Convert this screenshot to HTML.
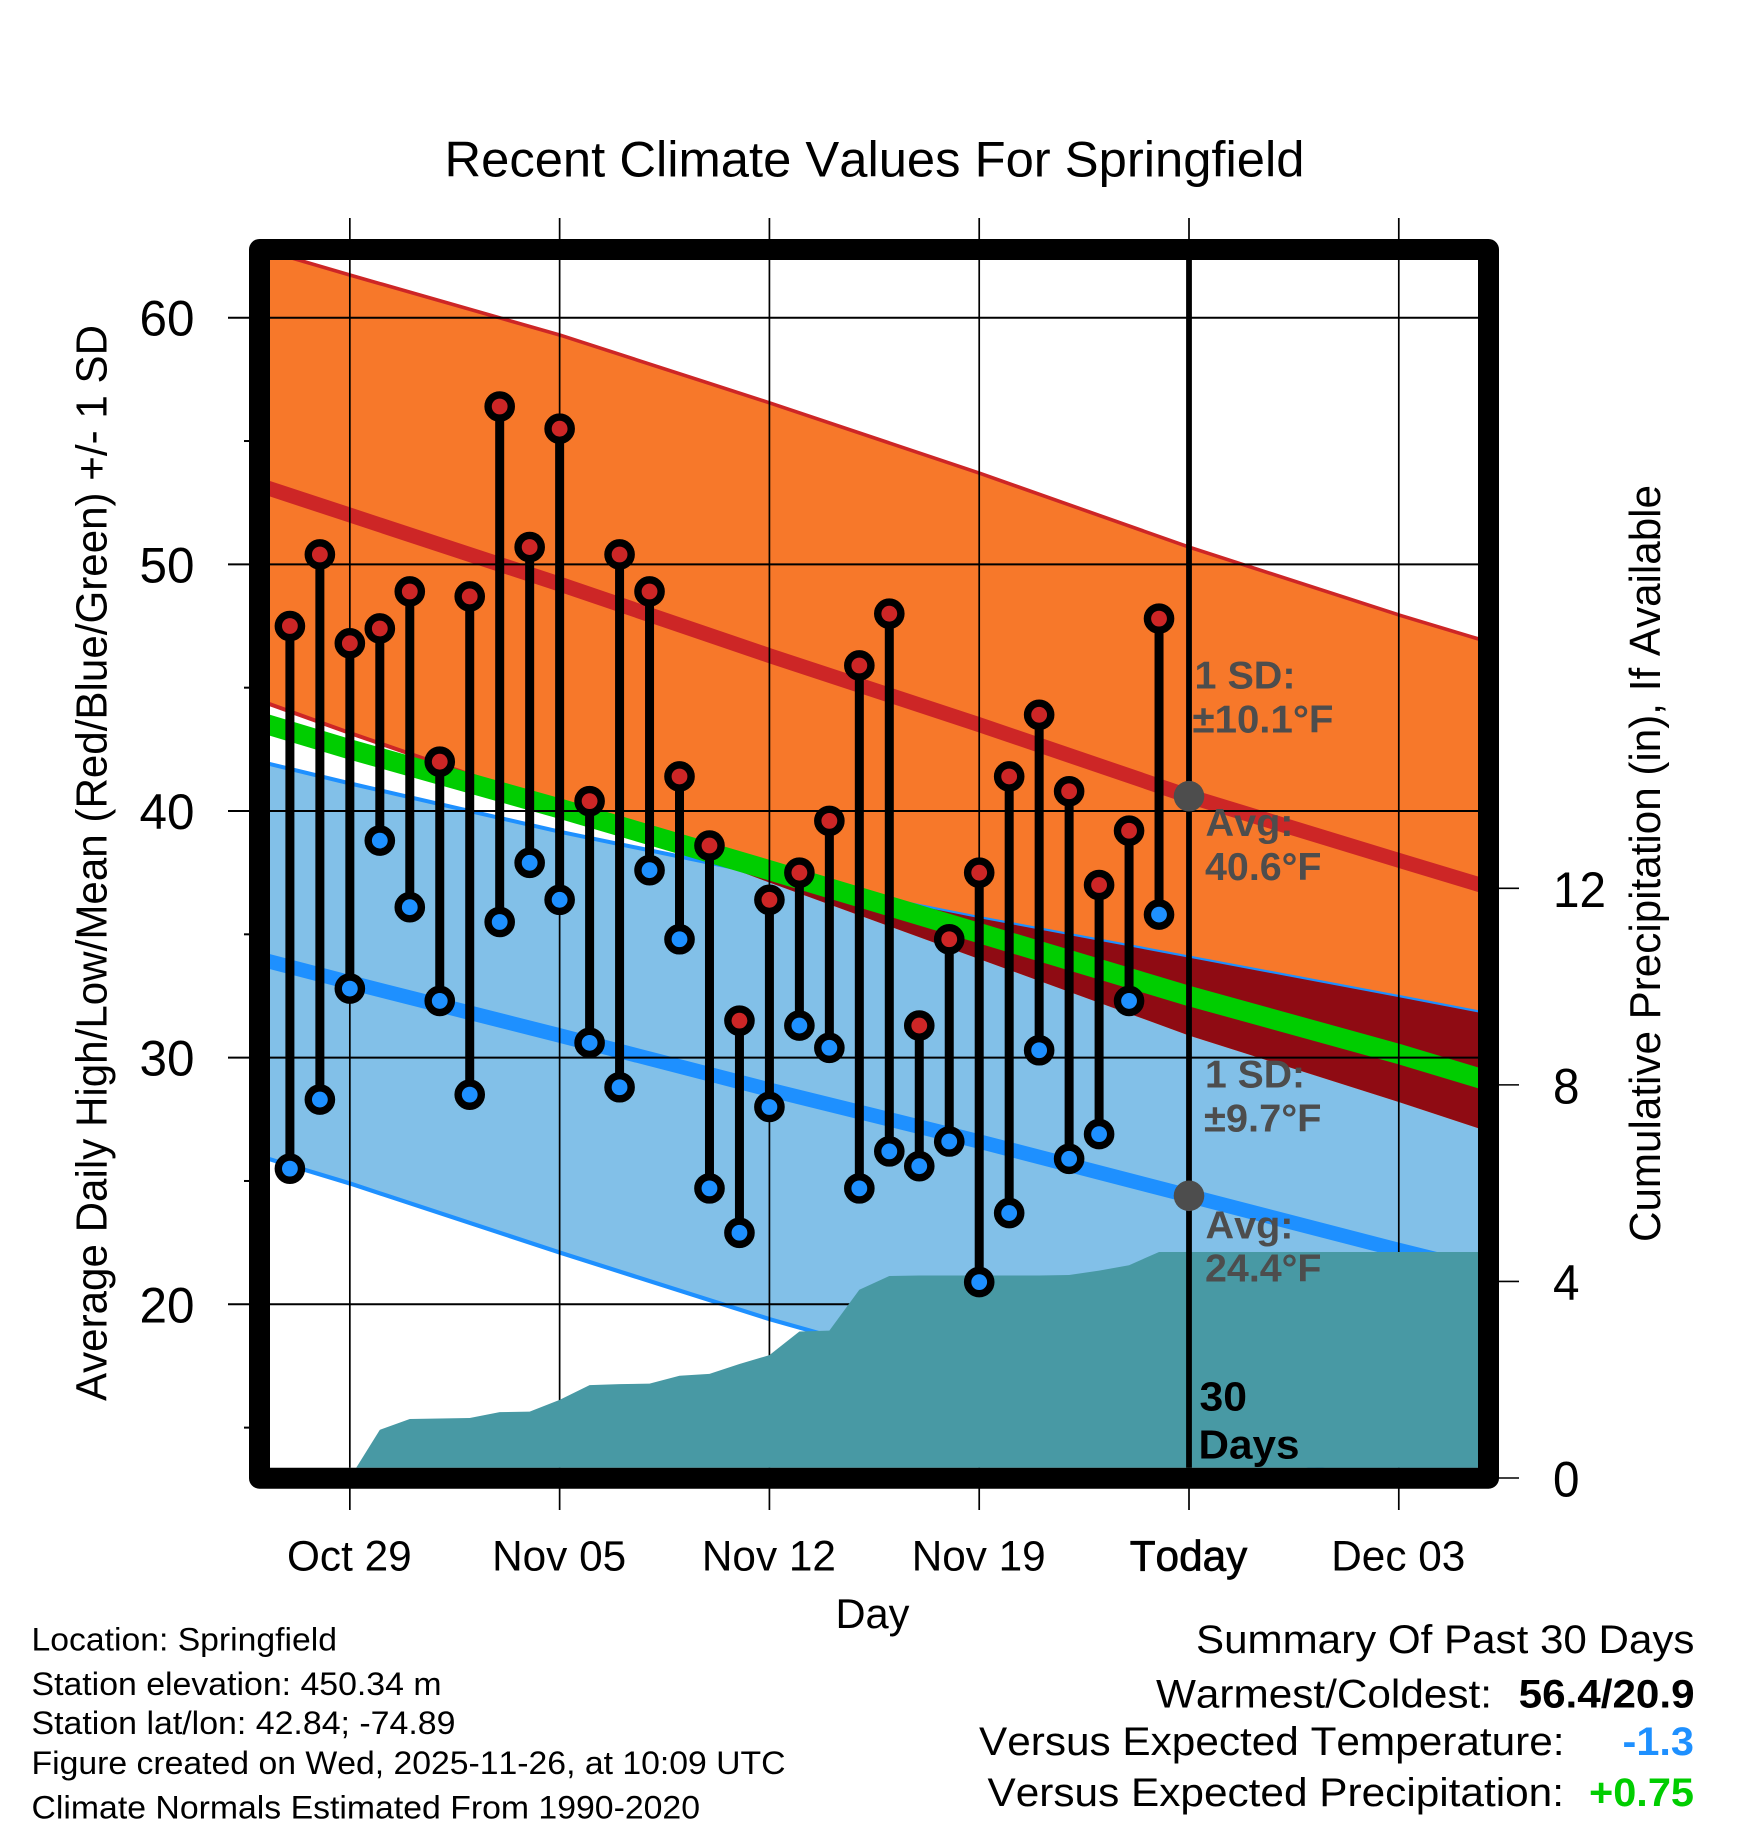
<!DOCTYPE html>
<html lang="en">
<head>
<meta charset="utf-8">
<title>Recent Climate Values For Springfield</title>
<style>
html,body{margin:0;padding:0;background:#fff;}
svg{display:block;}
text{font-family:"Liberation Sans",sans-serif;fill:#000;font-kerning:none;}
.b{font-weight:bold;}
.note{font-weight:bold;fill:#4D4D4D;font-size:39px;}
</style>
</head>
<body>
<svg id="chart" xmlns="http://www.w3.org/2000/svg" width="1748" height="1828" viewBox="0 0 1748 1828">
  <defs>
    <clipPath id="plot-clip"><rect x="270" y="260" width="1208" height="1207.7"></rect></clipPath>
    <clipPath id="orange-clip"><path id="orange-clip-path" d=""></path></clipPath>
    <clipPath id="blue-clip"><path id="blue-clip-path" d=""></path></clipPath>
  </defs>
  <g id="plot-layer" clip-path="url(#plot-clip)"></g>
  <g id="axis-layer"></g>
  <rect x="259.5" y="249.5" width="1229" height="1228.7" fill="none" stroke="#000" stroke-width="21" stroke-linejoin="round"></rect>
  <g id="stem-layer"></g>

  <text x="444.5" y="176.7" font-size="50" textLength="860" lengthAdjust="spacingAndGlyphs">Recent Climate Values For Springfield</text>
  <text transform="translate(106.7 1401) rotate(-90)" font-size="44" textLength="1076" lengthAdjust="spacingAndGlyphs">Average Daily High/Low/Mean (Red/Blue/Green) +/- 1 SD</text>
  <text transform="translate(1660 1242) rotate(-90)" font-size="44" textLength="757" lengthAdjust="spacingAndGlyphs">Cumulative Precipitation (in), If Available</text>
  <text x="835.5" y="1628" font-size="42" textLength="74" lengthAdjust="spacingAndGlyphs">Day</text>

  <text class="note" x="1194.5" y="688.3" textLength="101" lengthAdjust="spacingAndGlyphs">1 SD:</text>
  <text class="note" x="1192.5" y="732.3" textLength="141" lengthAdjust="spacingAndGlyphs">±10.1°F</text>
  <text class="note" x="1205.5" y="836" textLength="88" lengthAdjust="spacingAndGlyphs">Avg:</text>
  <text class="note" x="1205" y="880" textLength="116.5" lengthAdjust="spacingAndGlyphs">40.6°F</text>
  <text class="note" x="1205" y="1087.5" textLength="100" lengthAdjust="spacingAndGlyphs">1 SD:</text>
  <text class="note" x="1204" y="1131.5" textLength="117.5" lengthAdjust="spacingAndGlyphs">±9.7°F</text>
  <text class="note" x="1205.5" y="1238.3" textLength="88" lengthAdjust="spacingAndGlyphs">Avg:</text>
  <text class="note" x="1205" y="1281.7" textLength="116.5" lengthAdjust="spacingAndGlyphs">24.4°F</text>
  <text class="b" x="1199.5" y="1410.7" font-size="41" textLength="47.5" lengthAdjust="spacingAndGlyphs">30</text>
  <text class="b" x="1198.5" y="1458.3" font-size="41" textLength="101" lengthAdjust="spacingAndGlyphs">Days</text>

  <text x="31.5" y="1650.7" font-size="32" textLength="305.5" lengthAdjust="spacingAndGlyphs">Location: Springfield</text>
  <text x="31.5" y="1695" font-size="32" textLength="410" lengthAdjust="spacingAndGlyphs">Station elevation: 450.34 m</text>
  <text x="31.5" y="1734" font-size="32" textLength="424" lengthAdjust="spacingAndGlyphs">Station lat/lon: 42.84; -74.89</text>
  <text x="31.5" y="1774" font-size="32" textLength="754" lengthAdjust="spacingAndGlyphs">Figure created on Wed, 2025-11-26, at 10:09 UTC</text>
  <text x="31.5" y="1818.3" font-size="32" textLength="668.5" lengthAdjust="spacingAndGlyphs">Climate Normals Estimated From 1990-2020</text>

  <text x="1196" y="1653" font-size="40" textLength="498.5" lengthAdjust="spacingAndGlyphs">Summary Of Past 30 Days</text>
  <text x="1156" y="1707.7" font-size="40" textLength="336" lengthAdjust="spacingAndGlyphs">Warmest/Coldest:</text>
  <text class="b" x="1518.6" y="1707.7" font-size="40" textLength="176" lengthAdjust="spacingAndGlyphs">56.4/20.9</text>
  <text x="979" y="1755" font-size="40" textLength="585.5" lengthAdjust="spacingAndGlyphs">Versus Expected Temperature:</text>
  <text class="b" x="1622.5" y="1755" font-size="40" textLength="71.5" lengthAdjust="spacingAndGlyphs" style="fill:#1E90FF">-1.3</text>
  <text x="987.5" y="1806" font-size="40" textLength="576.5" lengthAdjust="spacingAndGlyphs">Versus Expected Precipitation:</text>
  <text class="b" x="1589" y="1806" font-size="40" textLength="105" lengthAdjust="spacingAndGlyphs" style="fill:#00CD00">+0.75</text>
</svg>

<script>
// ----- data -----
const normalDays = [-31, -28, -21, -14, -7, 0, 7, 10];
const highPlusSd  = [62.8, 61.73, 59.3, 56.55, 53.7, 50.7, 47.95, 46.85];
const highAvg     = [53.2, 52.0, 49.2, 46.3, 43.5, 40.6, 38.0, 36.9];
const highMinusSd = [44.56, 43.25, 40.3, 37.1, 34.0, 30.9, 28.2, 27.0];
const meanAvg     = [43.6, 42.5, 40.1, 37.6, 35.05, 32.5, 30.15, 29.05];
const lowPlusSd   = [42.0, 41.12, 39.16, 37.4, 35.7, 34.1, 32.5, 31.8];
const lowAvg      = [34.0, 33.05, 30.9, 28.7, 26.6, 24.4, 22.2, 21.3];
const lowMinusSd  = [26.0, 24.9, 22.1, 19.4, 17.0, 14.7, 12.5, 11.6];

const dailyHighs = [47.5,50.4,46.8,47.4,48.9,42.0,48.7,56.4,50.7,55.5,40.4,50.4,48.9,41.4,38.6,31.5,36.4,37.5,39.6,45.9,48.0,31.3,34.8,37.5,41.4,43.9,40.8,37.0,39.2,47.8];
const dailyLows  = [25.5,28.3,32.8,38.8,36.1,32.3,28.5,35.5,37.9,36.4,30.6,28.8,37.6,34.8,24.7,22.9,28.0,31.3,30.4,24.7,26.2,25.6,26.6,20.9,23.7,30.3,25.9,26.9,32.3,35.8];
const cumulativePrecip = [0,0,0,0.98,1.2,1.21,1.22,1.34,1.35,1.59,1.89,1.91,1.92,2.08,2.12,2.32,2.5,2.98,3.0,3.83,4.11,4.12,4.12,4.12,4.12,4.12,4.13,4.22,4.33,4.6];
const firstObservedDay = -30;

const tempTicks = [60, 50, 40, 30, 20];
const tempMinorTicks = [55, 45, 35, 25, 15];
const precipTicks = [12, 8, 4, 0];
const dayTicks = [-28, -21, -14, -7, 0, 7];
const dayLabels = ["Oct 29", "Nov 05", "Nov 12", "Nov 19", "Today", "Dec 03"];
const todayAvgHigh = 40.6;
const todayAvgLow = 24.4;

// ----- axis functions -----
function xDay(d) { return 1189 + 29.97 * d; }
function yTemp(v) { return 317.7 + (60 - v) * 24.665; }
function yPrecip(p) { return 1478 - p * 49.14; }

const NS = "http://www.w3.org/2000/svg";
const plot = document.getElementById("plot-layer");
const axes = document.getElementById("axis-layer");
const stems = document.getElementById("stem-layer");

function make(tag, parent, attrs) {
  const el = document.createElementNS(NS, tag);
  for (const k in attrs) el.setAttribute(k, attrs[k]);
  parent.appendChild(el);
  return el;
}
function curve(values) {
  return normalDays.map(function (d, i) {
    return (i ? "L" : "M") + xDay(d).toFixed(2) + " " + yTemp(values[i]).toFixed(2);
  }).join(" ");
}
function band(top, bottom) {
  const up = curve(top);
  const down = normalDays.map(function (d, i) { return i; }).reverse().map(function (i) {
    return "L" + xDay(normalDays[i]).toFixed(2) + " " + yTemp(bottom[i]).toFixed(2);
  }).join(" ");
  return up + " " + down + " Z";
}
function line(values, color, width, name) {
  const el = make("path", plot, { d: curve(values), fill: "none", stroke: color, "stroke-width": width });
  
  
  return el;
}
function fillBand(top, bottom, color, name) {
  const el = make("path", plot, { d: band(top, bottom), fill: color });
  
  
  return el;
}

const orangeBand = band(highPlusSd, highMinusSd);
const blueBand = band(lowPlusSd, lowMinusSd);
document.getElementById("orange-clip-path").setAttribute("d", orangeBand);
document.getElementById("blue-clip-path").setAttribute("d", blueBand);

// ----- bands -----
line(highMinusSd, "#CD2626", 8, "high-minus-sd-line");
fillBand(lowPlusSd, lowMinusSd, "#82C0E8", "low-sd-band");
line(lowPlusSd, "#1E90FF", 4, "low-plus-sd-line");
line(lowMinusSd, "#1E90FF", 4.2, "low-minus-sd-line");
fillBand(highPlusSd, highMinusSd, "#F7782A", "high-sd-band");
line(highPlusSd, "#CD2626", 3.6, "high-plus-sd-line");
const overlapGroup = make("g", plot, { "clip-path": "url(#blue-clip)" });


make("path", overlapGroup, { d: orangeBand, fill: "#8F0B13" });
const thinBlue = line(lowPlusSd, "#1E90FF", 2.2, "low-plus-sd-overlap-line");
thinBlue.setAttribute("clip-path", "url(#orange-clip)");
line(highAvg, "#CD2626", 14.8, "high-average-line");
line(lowAvg, "#1E90FF", 14.5, "low-average-line");
line(meanAvg, "#00CD00", 20, "mean-average-line");

// ----- grid and ticks -----
tempTicks.forEach(function (v) {
  const g = make("line", plot, { x1: 270, x2: 1478, y1: yTemp(v), y2: yTemp(v), stroke: "#000", "stroke-width": 2 });
  
  
  const t = make("line", axes, { x1: 228, x2: 250, y1: yTemp(v), y2: yTemp(v), stroke: "#000", "stroke-width": 2 });
  
  
  const lab = make("text", axes, { x: 139.5, y: yTemp(v) + 18, "font-size": 50, textLength: String(v).length * 27.5, lengthAdjust: "spacingAndGlyphs" });
  
  
  lab.textContent = v;
});
tempMinorTicks.forEach(function (v) {
  const t = make("line", axes, { x1: 244, x2: 250, y1: yTemp(v), y2: yTemp(v), stroke: "#000", "stroke-width": 2 });
  
  
});
precipTicks.forEach(function (p) {
  const t = make("line", axes, { x1: 1499, x2: 1519, y1: yPrecip(p), y2: yPrecip(p), stroke: "#000", "stroke-width": 1.6 });
  
  
  const lab = make("text", axes, { x: 1553, y: yPrecip(p) + 18.5, "font-size": 50, textLength: String(p).length * 26.5, lengthAdjust: "spacingAndGlyphs" });
  
  
  lab.textContent = p;
});
dayTicks.forEach(function (d, i) {
  const g = make("line", plot, { x1: xDay(d), x2: xDay(d), y1: 260, y2: 1468, stroke: "#000", "stroke-width": 1.7 });
  
  
  const top = make("line", axes, { x1: xDay(d), x2: xDay(d), y1: 218, y2: 240, stroke: "#000", "stroke-width": 1.7 });
  
  
  const bottom = make("line", axes, { x1: xDay(d), x2: xDay(d), y1: 1488, y2: 1510, stroke: "#000", "stroke-width": 1.7 });
  
  
  const lab = make("text", axes, { x: xDay(d) - 0.5, y: 1570.5, "font-size": 42.3, "text-anchor": "middle" });
  
  
  lab.textContent = dayLabels[i];
  if (d === 0) {
    lab.setAttribute("stroke", "#000");
    lab.setAttribute("stroke-width", "0.7");
  }
});

// ----- cumulative precipitation area -----
(function () {
  let d = "M" + xDay(firstObservedDay) + " " + yPrecip(0);
  cumulativePrecip.forEach(function (p, i) {
    d += " L" + xDay(firstObservedDay + i).toFixed(2) + " " + yPrecip(p).toFixed(2);
  });
  const last = cumulativePrecip[cumulativePrecip.length - 1];
  d += " L1490 " + yPrecip(last).toFixed(2) + " L1490 " + yPrecip(0) + " Z";
  const area = make("path", plot, { d: d, fill: "#4899A4" });
  
  
})();

// ----- today marker -----
const todayLine = make("line", plot, { x1: xDay(0), x2: xDay(0), y1: 250, y2: 1480, stroke: "#000", "stroke-width": 5.8 });



// ----- daily high/low stems -----
dailyHighs.forEach(function (hi, i) {
  const lo = dailyLows[i];
  const x = xDay(firstObservedDay + i);
  const stem = make("line", stems, { x1: x, x2: x, y1: yTemp(hi), y2: yTemp(lo), stroke: "#000", "stroke-width": 9 });
  
  
  const hiDot = make("circle", stems, { cx: x, cy: yTemp(hi), r: 11.6, fill: "#CD2626", stroke: "#000", "stroke-width": 7.4 });
  
  
  const loDot = make("circle", stems, { cx: x, cy: yTemp(lo), r: 11.6, fill: "#1E90FF", stroke: "#000", "stroke-width": 7.4 });
  
  
});

// ----- today's normals -----
const highMark = make("circle", stems, { cx: xDay(0), cy: yTemp(todayAvgHigh), r: 15.3, fill: "#4D4D4D" });


const lowMark = make("circle", stems, { cx: xDay(0), cy: yTemp(todayAvgLow), r: 15.3, fill: "#4D4D4D" });


</script>
</body>
</html>
